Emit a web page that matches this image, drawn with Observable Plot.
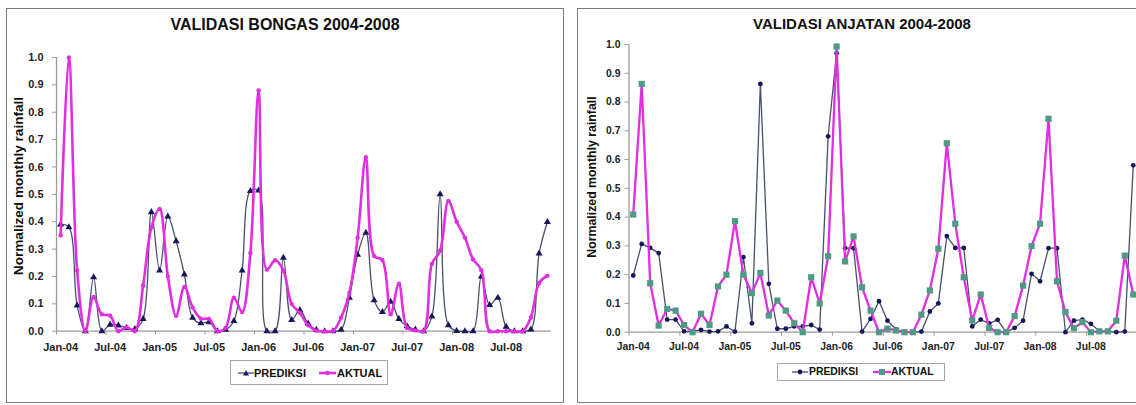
<!DOCTYPE html>
<html>
<head>
<meta charset="utf-8">
<script src="https://cdn.jsdelivr.net/npm/d3@7"></script>
<script src="https://cdn.jsdelivr.net/npm/@observablehq/plot@0.6"></script>
<style>
  html, body { margin: 0; padding: 0; background: #fff; }
  #page { position: relative; width: 1136px; height: 405px; overflow: hidden; font-family: Arial, "Liberation Sans", sans-serif; }
  .panel { position: absolute; border: 1.5px solid #7c7c7c; box-sizing: border-box; }
  .title { position: absolute; transform: translate(-50%, -50%); font-weight: bold; white-space: nowrap; color: #111; }
  .ylab { position: absolute; transform: translate(-50%, -50%) rotate(-90deg); font-weight: bold; white-space: nowrap; color: #111; }
  .chart { position: absolute; }
  .chart svg { max-width: none !important; }
  .legend { position: absolute; border: 1px solid #a4a4a4; box-sizing: border-box; background: #fff; }
  .legend .it { position: absolute; top: 50%; transform: translateY(-50%); font-weight: bold; white-space: nowrap; color: #111; line-height: 1; }
  .legend svg { position: absolute; top: 50%; transform: translateY(-50%); overflow: visible; }
</style>
</head>
<body>
<div id="page"></div>
<script>
// ---------- data ----------
const monthNames = ["Jan","Feb","Mar","Apr","May","Jun","Jul","Aug","Sep","Oct","Nov","Dec"];
const years = ["04","05","06","07","08"];
const months = years.flatMap(y => monthNames.map(m => m + "-" + y));
const xTickLabels = ["Jan-04","Jul-04","Jan-05","Jul-05","Jan-06","Jul-06","Jan-07","Jul-07","Jan-08","Jul-08"];
const yTicks = [0.0,0.1,0.2,0.3,0.4,0.5,0.6,0.7,0.8,0.9,1.0];
const seriesNames = ["PREDIKSI","AKTUAL"];
const titles = ["VALIDASI BONGAS 2004-2008","VALIDASI ANJATAN 2004-2008"];
const yLabel = "Normalized monthly rainfall";

const bongasPrediksi = [
  0.39, 0.38, 0.094, 0.0, 0.197, 0.0, 0.024, 0.021, 0.012, 0.008,
  0.045, 0.435, 0.222, 0.419, 0.329, 0.207, 0.049, 0.029, 0.033, 0.0,
  0.005, 0.037, 0.222, 0.512, 0.514, 0.0, 0.0, 0.268, 0.041, 0.077,
  0.028, 0.005, 0.0, 0.0, 0.005, 0.122, 0.279, 0.36, 0.113, 0.07,
  0.108, 0.045, 0.018, 0.006, 0.0, 0.054, 0.5, 0.022, 0.001, 0.0,
  0.0, 0.2, 0.096, 0.122, 0.016, 0.0, 0.0, 0.006, 0.284, 0.399
];
const bongasAktual = [
  0.35, 1.0, 0.222, 0.0, 0.125, 0.062, 0.057, 0.0, 0.015, 0.0,
  0.167, 0.379, 0.447, 0.2, 0.056, 0.162, 0.087, 0.046, 0.045, 0.0,
  0.012, 0.122, 0.07, 0.286, 0.88, 0.225, 0.259, 0.222, 0.1, 0.067,
  0.022, 0.002, 0.0, 0.0, 0.05, 0.14, 0.342, 0.636, 0.275, 0.26,
  0.062, 0.174, 0.012, 0.003, 0.0, 0.246, 0.294, 0.476, 0.4, 0.342,
  0.262, 0.223, 0.0, 0.0, 0.0, 0.0, 0.0, 0.05, 0.176, 0.203
];
const anjatanPrediksi = [
  0.197, 0.307, 0.293, 0.275, 0.044, 0.044, 0.003, 0.003, 0.008, 0.002,
  0.003, 0.02, 0.002, 0.261, 0.031, 0.863, 0.168, 0.012, 0.012, 0.02,
  0.02, 0.025, 0.009, 0.681, 0.97, 0.292, 0.292, 0.002, 0.046, 0.108,
  0.04, 0.01, 0.0, 0.0, 0.002, 0.072, 0.1, 0.334, 0.293, 0.293,
  0.02, 0.044, 0.031, 0.043, 0.0, 0.015, 0.04, 0.203, 0.177, 0.292,
  0.292, 0.0, 0.04, 0.044, 0.029, 0.003, 0.003, 0.0, 0.002, 0.58
];
const anjatanAktual = [
  0.409, 0.863, 0.17, 0.023, 0.081, 0.075, 0.025, 0.0, 0.064, 0.025,
  0.159, 0.2, 0.386, 0.2, 0.136, 0.206, 0.058, 0.11, 0.075, 0.031,
  0.0, 0.191, 0.1, 0.264, 0.993, 0.246, 0.333, 0.156, 0.075, 0.0,
  0.012, 0.006, 0.0, 0.0, 0.061, 0.145, 0.29, 0.657, 0.377, 0.191,
  0.041, 0.131, 0.015, 0.0, 0.0, 0.056, 0.162, 0.299, 0.377, 0.742,
  0.177, 0.07, 0.014, 0.035, 0.0, 0.003, 0.003, 0.04, 0.266, 0.131
];

// ---------- styles ----------
const MAGENTA = "#e02ee0";
const NAVY = "#15185a";
const PRED_LINE = "#47506e";
const TEAL = "#4f9a84";
const AXIS = "#9a9a9a";
const FONT = "Arial, 'Liberation Sans', sans-serif";

const page = document.getElementById("page");
function el(tag, cls, css, html) {
  const e = document.createElement(tag);
  if (cls) e.className = cls;
  Object.assign(e.style, css || {});
  if (html != null) e.innerHTML = html;
  page.appendChild(e);
  return e;
}

function chart(o) {
  const dataP = months.map((m, i) => ({m, v: o.pred[i]}));
  const dataA = months.map((m, i) => ({m, v: o.akt[i]}));
  const half = (o.width - o.ml - o.mr) / months.length / 2;
  return Plot.plot({
    width: o.width, height: o.height,
    marginTop: o.mt, marginBottom: o.mb, marginLeft: o.ml, marginRight: o.mr,
    style: {background: "transparent", fontFamily: FONT, overflow: "visible"},
    x: {type: "point", domain: months, padding: 0.5, round: false, axis: null, label: null},
    y: {domain: [0, 1], axis: null, label: null},
    marks: [
      Plot.ruleY([0], {stroke: AXIS, strokeWidth: 1.3}),
      Plot.ruleX([months[0]], {dx: -half, y1: 0, y2: 1, stroke: AXIS, strokeWidth: 1.3}),
      Plot.ruleX(xTickLabels, {x: d => d, dx: -half, y1: 0, y2: -0.014, stroke: AXIS}),
      Plot.axisX({ticks: xTickLabels, tickSize: 0, tickPadding: o.xPad, fontSize: o.tickFont, fontWeight: "bold", fill: "#222", label: null}),
      Plot.axisY({ticks: yTicks, tickFormat: d3.format(".1f"), tickSize: 4, tickPadding: o.yPad, stroke: AXIS, fontSize: o.tickFont, fontWeight: "bold", fill: "#222", label: null}),
      Plot.line(dataP, {x: "m", y: "v", stroke: PRED_LINE, strokeWidth: 1.3, curve: o.curve}),
      Plot.dot(dataP, {x: "m", y: "v", symbol: o.predSymbol, r: o.predR, fill: NAVY, stroke: "none"}),
      Plot.line(dataA, {x: "m", y: "v", stroke: MAGENTA, strokeWidth: o.aktWidth, curve: o.curve}),
      Plot.dot(dataA, {x: "m", y: "v", symbol: o.aktSymbol, r: o.aktR, fill: o.aktFill, stroke: "none"})
    ]
  });
}

// ---------- left panel (BONGAS) ----------
el("div", "panel", {left: "6px", top: "8px", width: "558px", height: "395px"});
el("div", "title", {left: "285px", top: "25px", fontSize: "16px"}, titles[0]);
el("div", "ylab", {left: "18px", top: "186px", fontSize: "13.6px"}, yLabel);
const c1 = el("div", "chart", {left: "0px", top: "40px", width: "565px", height: "330px"});
c1.appendChild(chart({
  pred: bongasPrediksi, akt: bongasAktual,
  width: 565, height: 330, mt: 17, mb: 39.3, ml: 56, mr: 14,
  xPad: 12, yPad: 9, tickFont: 11,
  curve: "catmull-rom", predSymbol: "triangle", predR: 2.6,
  aktSymbol: "circle", aktR: 2.2, aktFill: MAGENTA, aktWidth: 2.6
}));
const lg1 = el("div", "legend", {left: "230px", top: "360px", width: "158px", height: "25px"});
lg1.innerHTML =
  `<svg style="left:7px" width="16" height="8"><line x1="0" y1="4" x2="16" y2="4" stroke="${PRED_LINE}" stroke-width="1.3"/><path d="M8,1 L11,6.5 L5,6.5 Z" fill="${NAVY}"/></svg>` +
  `<span class="it" style="left:23px;font-size:11px">${seriesNames[0]}</span>` +
  `<svg style="left:88px" width="17" height="8"><line x1="0" y1="4" x2="17" y2="4" stroke="${MAGENTA}" stroke-width="2.6"/><circle cx="8.5" cy="4" r="2.3" fill="${MAGENTA}"/></svg>` +
  `<span class="it" style="left:106px;font-size:11px">${seriesNames[1]}</span>`;

// ---------- right panel (ANJATAN) ----------
el("div", "panel", {left: "577px", top: "8px", width: "575px", height: "395px"});
el("div", "title", {left: "862px", top: "23px", fontSize: "15px"}, titles[1]);
el("div", "ylab", {left: "592px", top: "177px", fontSize: "12.3px"}, yLabel);
const c2 = el("div", "chart", {left: "570px", top: "30px", width: "567px", height: "340px"});
c2.appendChild(chart({
  pred: anjatanPrediksi, akt: anjatanAktual,
  width: 567, height: 340, mt: 14, mb: 38.3, ml: 58.5, mr: 0,
  xPad: 10, yPad: 4.5, tickFont: 10.4,
  curve: "linear", predSymbol: "circle", predR: 2.4,
  aktSymbol: "square", aktR: 3.5, aktFill: TEAL, aktWidth: 2.3
}));
const lg2 = el("div", "legend", {left: "777px", top: "363px", width: "168px", height: "18px"});
lg2.innerHTML =
  `<svg style="left:14px" width="16" height="8"><line x1="0" y1="4" x2="16" y2="4" stroke="${PRED_LINE}" stroke-width="1.3"/><circle cx="8" cy="4" r="2.4" fill="${NAVY}"/></svg>` +
  `<span class="it" style="left:31px;font-size:10.4px">${seriesNames[0]}</span>` +
  `<svg style="left:95px" width="18" height="8"><line x1="0" y1="4" x2="18" y2="4" stroke="${MAGENTA}" stroke-width="2.3"/><rect x="6" y="1" width="6" height="6" fill="${TEAL}"/></svg>` +
  `<span class="it" style="left:113px;font-size:10.4px">${seriesNames[1]}</span>`;
</script>
</body>
</html>
